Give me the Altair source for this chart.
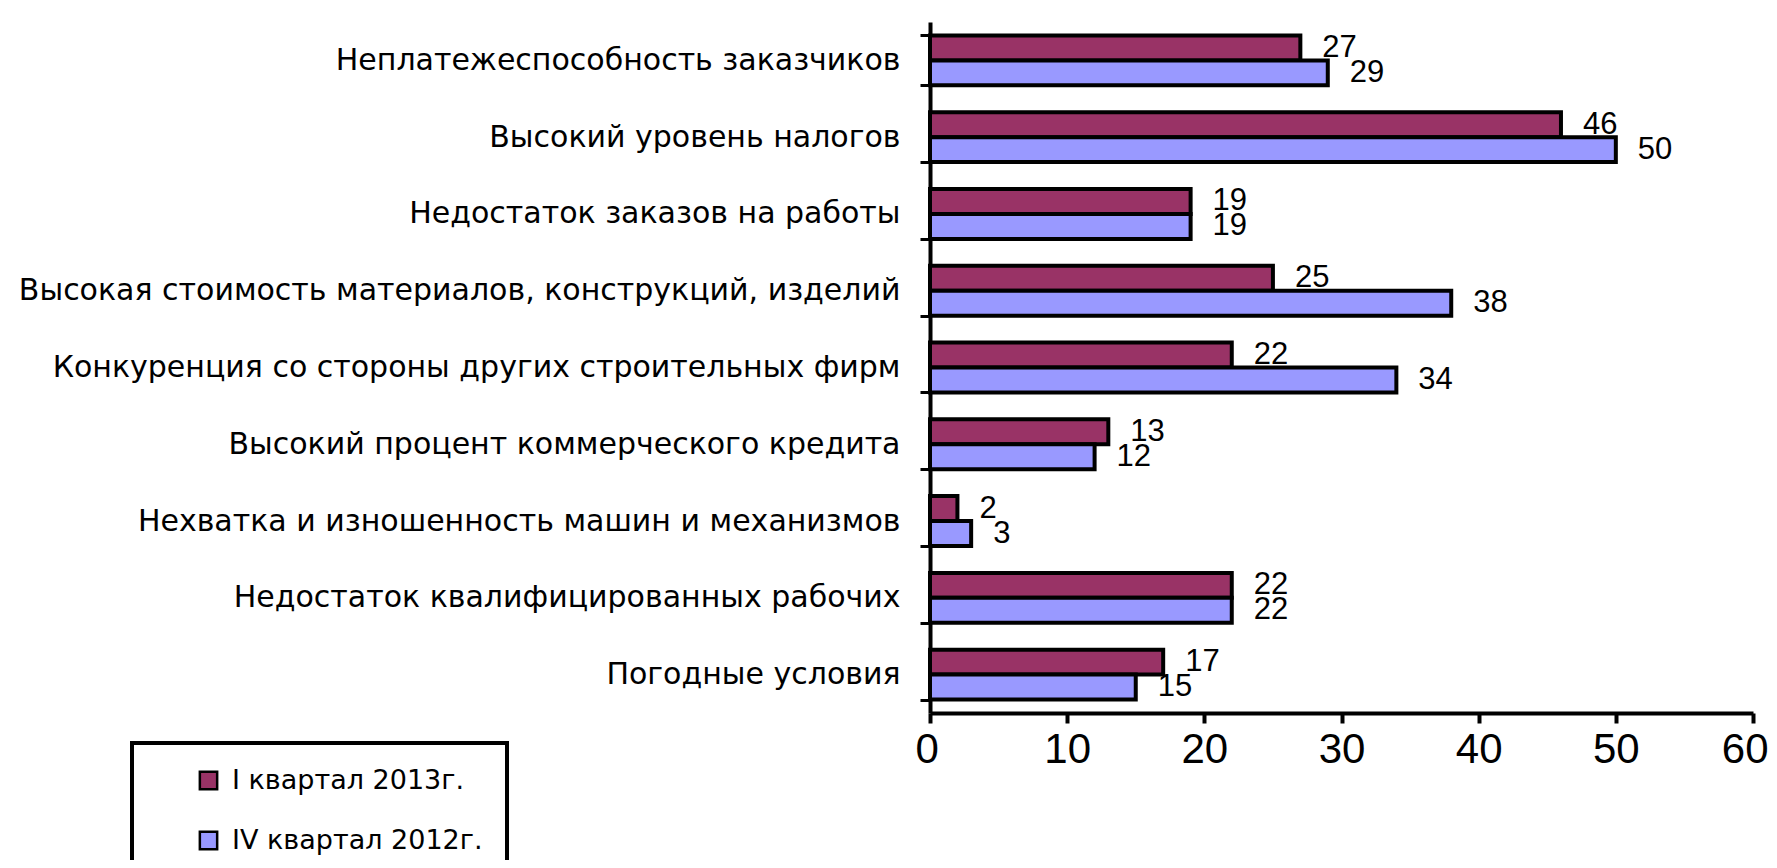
import altair as alt
import pandas as pd

categories = [
    "Неплатежеспособность заказчиков",
    "Высокий уровень налогов",
    "Недостаток заказов на работы",
    "Высокая стоимость материалов, конструкций, изделий",
    "Конкуренция со стороны других строительных фирм",
    "Высокий процент коммерческого кредита",
    "Нехватка и изношенность машин и механизмов",
    "Недостаток квалифицированных рабочих",
    "Погодные условия",
]
series_names = ["I квартал 2013г.", "IV квартал 2012г."]
q1_2013 = [27, 46, 19, 25, 22, 13, 2, 22, 17]
q4_2012 = [29, 50, 19, 38, 34, 12, 3, 22, 15]
colors = ["#993366", "#9999FF"]
x_ticks = [0, 10, 20, 30, 40, 50, 60]

rows = []
for c, a, b in zip(categories, q1_2013, q4_2012):
    rows.append({"cat": c, "series": series_names[0], "value": a})
    rows.append({"cat": c, "series": series_names[1], "value": b})
df = pd.DataFrame(rows)

y_enc = alt.Y(
    "cat:N",
    sort=categories,
    title=None,
    scale=alt.Scale(paddingInner=0.35, paddingOuter=0.175),
    axis=alt.Axis(
        labelFont="DejaVu Sans",
        labelFontSize=30,
        labelColor="black",
        labelPadding=20,
        labelLimit=1000,
        tickBand="extent",
        tickSize=10,
        tickWidth=3,
        tickColor="black",
        domainColor="black",
        domainWidth=4,
    ),
)
yoff_enc = alt.YOffset(
    "series:N", sort=series_names, scale=alt.Scale(paddingInner=0, paddingOuter=0)
)
x_enc = alt.X(
    "value:Q",
    title=None,
    scale=alt.Scale(domain=[0, 60], nice=False),
    axis=alt.Axis(
        values=x_ticks,
        grid=False,
        labelFont="Liberation Sans",
        labelFontSize=42,
        labelColor="black",
        labelPadding=6,
        labelFlush=True,
        labelFlushOffset=15,
        tickSize=10,
        tickWidth=4,
        tickColor="black",
        domainColor="black",
        domainWidth=4,
    ),
)

bars = alt.Chart(df).mark_bar(stroke="black", strokeWidth=4).encode(
    x=x_enc,
    y=y_enc,
    yOffset=yoff_enc,
    color=alt.Color(
        "series:N",
        sort=series_names,
        scale=alt.Scale(domain=series_names, range=colors),
        legend=alt.Legend(
            title=None,
            orient="none",
            legendX=-798,
            legendY=721,
            padding=24,
            symbolOffset=39,
            strokeColor="black",
            symbolType="square",
            symbolSize=300,
            symbolStrokeColor="black",
            symbolStrokeWidth=2.5,
            labelFont="DejaVu Sans",
            labelFontSize=27,
            labelColor="black",
            labelOffset=10,
            labelLimit=600,
            rowPadding=31,
        ),
    ),
)

labels = alt.Chart(df).mark_text(
    align="left",
    baseline="middle",
    dx=22,
    font="Liberation Sans",
    fontSize=31,
    color="black",
).encode(
    x=alt.X("value:Q"),
    y=alt.Y("cat:N", sort=categories),
    yOffset=alt.YOffset("series:N", sort=series_names),
    text=alt.Text("value:Q"),
)

chart = (
    alt.layer(bars, labels)
    .properties(
        width=823,
        height=691,
        padding={"left": 922, "top": 14, "right": 16, "bottom": 147},
        autosize=alt.AutoSizeParams(type="none"),
        background="white",
    )
    .configure_view(stroke=None)
    .configure_legend(strokeWidth=4)
)

chart.save("out.html", embed_options={"renderer": "svg", "actions": False})
